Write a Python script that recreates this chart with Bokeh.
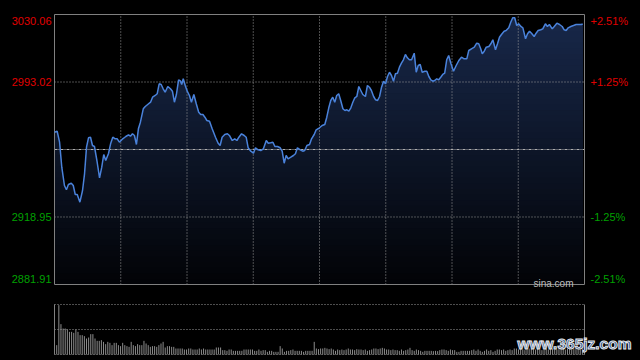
import numpy as np
from bokeh.plotting import figure
from bokeh.models import Range1d, Label
from bokeh.core.properties import value
from bokeh.embed import file_html
from bokeh.resources import INLINE

# ---------------- data ----------------
prev_close = 2955.985
level_values = [3030.06, 2993.02, 2918.95, 2881.91]
price_labels = ["3030.06", "2993.02", "2918.95", "2881.91"]
pct_labels = ["+2.51%", "+1.25%", "-1.25%", "-2.51%"]
label_colors = ["#e00000", "#e00000", "#00a000", "#00a000"]

minutes = [
    0.0, 1.2, 2.3, 3.3, 4.5, 5.4, 6.3, 7.6, 8.5, 9.4, 10.3, 11.5, 12.7, 13.6, 14.5, 15.4, 16.3, 17.2, 18.1, 19.2,
    20.4, 21.4, 22.3, 23.2, 24.5, 25.4, 26.4, 27.5, 28.4, 29.4, 30.9, 32.3, 33.5, 34.4, 35.3, 36.2, 37.1, 38.0, 38.9, 40.2,
    41.1, 42.2, 43.5, 44.4, 45.6, 46.5, 47.4, 48.3, 49.2, 50.1, 51.3, 52.5, 53.4, 54.3, 55.2, 56.2, 57.1, 57.6, 58.3, 59.2,
    60.1,
    61.1, 62.0, 63.1, 64.2, 65.3, 66.2, 67.2, 68.1, 69.0, 70.2, 71.4, 72.9, 74.1, 75.0, 75.9, 77.1, 78.3, 79.2, 80.5, 81.6,
    82.6, 83.5, 84.7, 85.9, 86.8, 87.7, 88.9, 90.1, 91.0, 92.2, 93.4, 94.6, 95.9, 96.8, 97.9, 98.9, 99.8, 101.0, 102.2, 103.1,
    104.0, 104.9, 105.8, 107.0, 108.2, 109.1, 110.0, 111.3, 112.4, 113.3, 114.3, 115.5, 116.4, 117.6, 118.5,
    120.0, 121.2, 122.4, 123.3, 124.2, 125.1, 126.0, 126.9, 127.8, 128.7,
    129.6, 130.6, 131.5, 132.4, 133.3, 134.2, 135.1, 136.0, 136.9, 137.8,
    138.7, 139.6, 140.8, 141.7, 142.6, 143.5, 144.5, 145.4, 146.3, 147.2,
    148.1, 149.0, 149.9, 150.8, 151.7, 152.6, 153.5, 154.4, 155.3, 156.2,
    157.1, 158.0, 158.9, 159.8, 160.7, 161.7, 162.9, 163.8, 164.7, 165.6,
    166.5, 167.7, 168.6, 169.5, 170.4, 171.3, 172.2, 173.1, 174.0, 174.9,
    175.8, 176.7, 177.6, 178.5, 179.5,
    180.7, 181.9, 183.1, 184.3, 185.5, 186.7, 187.6, 188.8, 190.1, 191.2,
    192.1, 193.0, 193.7, 194.6, 195.5, 196.7, 197.6, 198.5, 199.7, 200.6,
    201.5, 202.4, 203.6, 204.5, 205.7, 206.6, 207.5, 208.4, 209.3, 210.2,
    211.2, 212.1, 213.3, 214.2, 215.1, 216.0, 217.2, 218.1, 219.0, 220.2,
    221.1, 222.3, 223.2, 224.1, 225.4, 226.3, 227.5, 228.7, 229.9, 230.8,
    231.7, 232.6, 233.8, 235.0, 236.2, 237.4, 238.6, 239.2,
]

prices = [
    2965.48, 2966.03, 2959.99, 2946.27, 2936.23, 2933.87, 2936.78, 2937.49, 2936.23, 2931.29,
    2931.29, 2927.07, 2933.49, 2942.65, 2957.25, 2962.41, 2962.73, 2958.18, 2957.63, 2949.95,
    2940.46, 2946.27, 2953.24, 2949.95, 2953.96, 2959.11, 2962.73, 2961.86, 2961.86, 2959.99,
    2961.86, 2963.12, 2964.05, 2963.28, 2964.60, 2963.67, 2958.73, 2967.34, 2970.96, 2978.32,
    2979.58, 2980.68, 2981.94, 2984.68, 2985.62, 2986.55, 2992.04, 2991.65, 2989.29, 2987.43,
    2990.55, 2989.29, 2987.97, 2981.94, 2986.16, 2994.23, 2993.46, 2991.65, 2994.78, 2991.10,
    2987.97,
    2985.62, 2981.94, 2986.16, 2981.06, 2976.45, 2975.19, 2975.19, 2973.71, 2971.90, 2971.51,
    2967.34, 2962.73, 2959.44, 2958.18, 2962.73, 2964.22, 2964.60, 2963.67, 2960.92, 2961.86,
    2960.92, 2962.73, 2964.60, 2963.67, 2962.73, 2956.92, 2955.05, 2953.96, 2956.92, 2955.82,
    2955.44, 2956.37, 2960.92, 2959.44, 2959.66, 2959.99, 2957.63, 2957.63, 2956.92, 2955.05,
    2948.47, 2952.69, 2950.88, 2951.76, 2952.69, 2953.63, 2956.92, 2955.82, 2955.05, 2955.44,
    2958.18, 2958.73, 2961.86, 2964.22, 2966.80,
    2967.89, 2969.15, 2969.70, 2973.71, 2978.87, 2982.87, 2984.68, 2981.94, 2985.62, 2986.55,
    2982.87, 2978.32, 2977.38, 2977.77, 2977.00, 2978.87, 2981.94, 2984.35, 2985.07, 2990.55,
    2988.36, 2986.16, 2985.07, 2991.10, 2990.17, 2988.36, 2985.07, 2983.26, 2982.87, 2985.07,
    2990.17, 2993.46, 2992.04, 2996.04, 2998.40, 2996.59, 2993.46, 2997.52, 2997.85, 3001.14,
    3003.34, 3005.20, 3008.11, 3006.30, 3005.20, 3005.20, 3008.83, 2998.40, 3002.08, 3002.62,
    2998.40, 2998.95, 2998.95, 2996.04, 2994.23, 2993.46, 2993.85, 2994.78, 2994.23, 2995.66,
    2997.14, 2997.85, 3005.20, 3007.56, 3003.17,
    2998.95, 3002.08, 3004.82, 3006.63, 3005.75, 3005.75, 3010.31, 3011.24, 3012.12, 3014.31,
    3013.98, 3011.24, 3008.50, 3009.92, 3012.12, 3012.50, 3013.98, 3016.18, 3010.69, 3013.98,
    3017.60, 3019.09, 3020.90, 3021.28, 3022.76, 3025.84, 3028.25, 3028.25, 3024.02, 3024.96,
    3023.48, 3022.76, 3016.73, 3019.47, 3020.90, 3019.80, 3017.99, 3019.80, 3021.28, 3021.67,
    3022.21, 3024.96, 3023.48, 3024.57, 3022.21, 3023.48, 3025.29, 3024.57, 3023.48, 3021.67,
    3021.28, 3022.76, 3023.48, 3024.02, 3024.57, 3024.57, 3024.57, 3024.96,
]

# volume bars (share of the panel's full height), in time order
volumes = [
    18.7, 98.7, 60.7, 52, 52, 50, 45.3, 45.3, 43.3, 50,
    45.3, 38.7, 38.7, 36.7, 32, 34, 40.7, 40.7, 32, 27.3,
    27.3, 28.7, 25.3, 20.7, 25.3, 23.3, 18.7, 23.3, 23.3, 18.7,
    16.7, 23.3, 18.7, 16.7, 15.3, 25.3, 18.7, 16.7, 20.7, 18.7,
    18.7, 27.3, 22, 18.7, 15.3, 16.7, 16.7, 15.3, 18.7, 22,
    25.3, 14, 16.7, 16.7, 15.3, 15.3, 12, 12, 12, 12,
    10, 10, 12, 12, 10, 10, 10, 12, 10, 12,
    10, 10, 10, 10, 10, 14, 14, 14, 8.7, 8.7,
    7.3, 10, 10, 7.3, 7.3, 7.3, 7.3, 7.3, 10, 10,
    10, 10, 10, 7.3, 7.3, 10, 7.3, 8.7, 8.7, 5.3,
    7.3, 7.3, 5.3, 5.3, 5.3, 16.7, 12, 5.3, 7.3, 7.3,
    8.7, 10, 7.3, 7.3, 7.3, 7.3, 5.3, 7.3, 7.3, 7.3,
    7.3,
    25.3, 12, 10.7, 12, 12, 13.3, 12, 10.7, 12, 10,
    7.3, 10, 8.7, 10, 8.7, 10, 12, 10, 10, 8.7,
    10.7, 10, 10, 8.7, 10, 7.3, 8.7, 10, 12, 12,
    10.7, 12, 13.3, 12, 10, 10, 8.7, 10, 8.7, 8.7,
    7.3, 10, 7.3, 8.7, 10, 13.3, 8.7, 7.3, 10, 8.7,
    7.3, 5.3, 7.3, 7.3, 7.3, 7.3, 6.7, 7.3, 6.7, 8.7,
    10, 10, 8.7, 7.3, 10, 8.7, 8.7, 5.3, 5.3, 7.3,
    7.3, 7.3, 7.3, 7.3, 8.7, 10, 7.3, 10, 7.3, 5.3,
    7.3, 10, 7.3, 8.7, 5.3, 7.3, 10, 10, 8.7, 10,
    7.3, 8.7, 10, 8.7, 12,
    12, 10, 12, 10, 8.7, 10, 12, 12, 10, 10,
    12, 10, 8.7, 10, 12, 10, 12, 12, 10, 10,
    12, 14, 12, 10, 12, 12, 10, 12, 14, 12,
    10, 12, 16.7,
]
VOL_MAX = 100

assert len(minutes) == len(prices)

# ---------------- layout (page pixels; Bokeh's page has no body margin) ----------------
PAGE = 0
W, H = 640, 360
FX0, FX1 = 54, 584      # main frame left / right
FY0, FY1 = 14, 284      # main frame top / bottom
VY0, VY1 = 304, 354     # volume panel top / bottom
T_END = 240

HI, LO = level_values[0], level_values[-1]
pxm = (FX1 - FX0) / T_END
ppu = (FY1 - FY0) / (HI - LO)
vpp = VOL_MAX / (VY1 - VY0)

x_range = Range1d(-(FX0 - PAGE) / pxm, T_END + (PAGE + W - FX1) / pxm)
y_range = Range1d(LO - (PAGE + H - FY1) / ppu, HI + (FY0 - PAGE) / ppu)
vol_range = Range1d(-(PAGE + H - VY1) * vpp, VOL_MAX + (VY0 - PAGE) * vpp)

p = figure(width=W, height=H, x_range=x_range, y_range=y_range,
           output_backend="svg", toolbar_location=None, min_border=0,
           x_axis_location=None, y_axis_location=None,
           background_fill_color="#000000", border_fill_color="#000000",
           outline_line_color=None)
p.grid.visible = False
p.extra_y_ranges = {"vol": vol_range}

t_arr = np.array(minutes)
p_arr = np.array(prices)

# gradient area under the price line (stacked bands, top colour first)
n_bands = 48
top_rgb = np.array([24, 40, 74])
bot_rgb = np.array([2, 3, 6])
for k in range(n_bands, 0, -1):
    lvl = LO + (HI - LO) * k / n_bands
    frac = (k - 0.5) / n_bands
    c = (bot_rgb + (top_rgb - bot_rgb) * frac).round().astype(int)
    col = "#%02x%02x%02x" % tuple(c)
    p.varea(x=t_arr, y1=np.full(len(t_arr), LO), y2=np.minimum(p_arr, lvl),
            fill_color=col, fill_alpha=1.0)

# grid
grid_col = "#9a9a9a"
vx = [30 * i for i in range(1, 8)]
p.segment(x0=vx, y0=[LO] * len(vx), x1=vx, y1=[HI] * len(vx),
          line_color=grid_col, line_width=1, line_dash="1 2")
hy = [level_values[1], level_values[2]]
p.segment(x0=[0, 0], y0=hy, x1=[T_END, T_END], y1=hy,
          line_color=grid_col, line_width=1, line_dash="1 2")
p.segment(x0=[0], y0=[prev_close], x1=[T_END], y1=[prev_close],
          line_color="#b0b0b0", line_width=1, line_dash="3 1 1 1")

# main frame
frame_col = "#808080"
p.segment(x0=[0, 0, 0, T_END], y0=[HI, LO, LO, LO], x1=[T_END, T_END, 0, T_END], y1=[HI, LO, HI, HI],
          line_color=frame_col, line_width=1)

# price line
p.line(t_arr, p_arr, line_color="#4a82da", line_width=1.5)

# labels
p.text(x=[0] * 4, y=level_values, text=price_labels, text_color=label_colors,
       text_align="right", text_baseline="middle", x_offset=-3, y_offset=[6, 0, 0, -6],
       text_font=value("Liberation Sans"), text_font_size="11px")
p.text(x=[T_END] * 4, y=level_values, text=pct_labels, text_color=label_colors,
       text_align="left", text_baseline="middle", x_offset=6, y_offset=[6, 0, 0, -6],
       text_font=value("Liberation Sans"), text_font_size="11px")
p.text(x=[T_END], y=[LO], text=["sina.com"], text_color="#bdbdbd",
       text_align="right", text_baseline="alphabetic", x_offset=-11, y_offset=-1,
       text_font=value("Liberation Sans"), text_font_size="10px")

# volume panel
vt = np.linspace(1, T_END, len(volumes))
p.segment(x0=vt, y0=np.zeros(len(vt)), x1=vt, y1=volumes, y_range_name="vol",
          line_color="#8c8c8c", line_width=1)
p.segment(x0=[0, 0, 0], y0=[VOL_MAX, VOL_MAX / 2, 0], x1=[T_END] * 3, y1=[VOL_MAX, VOL_MAX / 2, 0],
          y_range_name="vol", line_color=grid_col, line_width=1, line_dash="1 2")
p.segment(x0=[0, T_END], y0=[0, 0], x1=[0, T_END], y1=[VOL_MAX, VOL_MAX],
          y_range_name="vol", line_color=frame_col, line_width=1)

# watermark
wm = Label(x=517, y=17, x_units="screen", y_units="screen", text="www.365jz.com",
           text_font="Liberation Sans", text_font_style="bold", text_font_size="15.5px",
           text_color="#1d4b8f", text_baseline="middle", text_outline_color="#e6e6e6")
p.add_layout(wm)

html = file_html(p, INLINE)
html = html.replace("</head>", "<style>html,body{background:#000000;overflow:hidden;}</style></head>", 1)
open("out.html", "w").write(html)
